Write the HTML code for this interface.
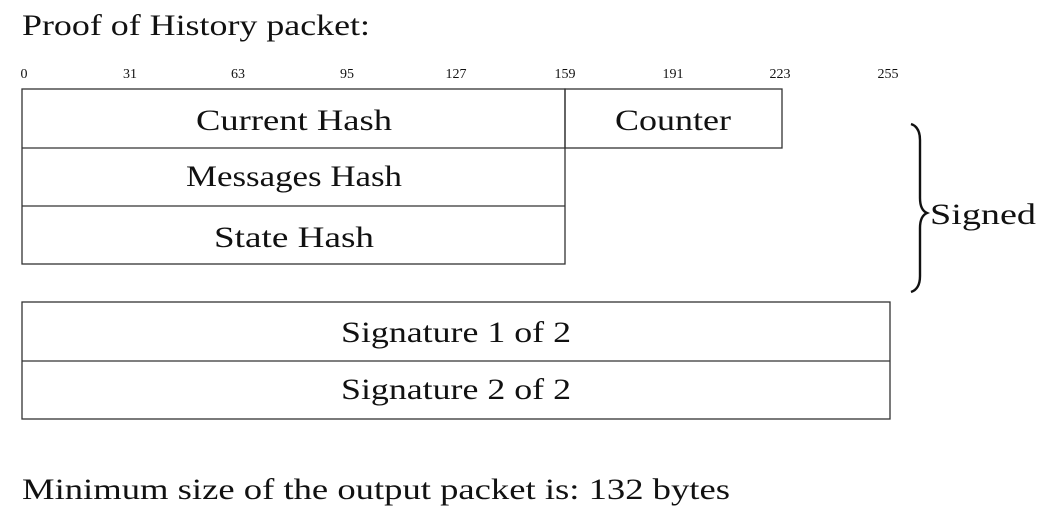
<!DOCTYPE html>
<html><head><meta charset="utf-8"><style>
html,body{margin:0;padding:0;background:#fff;}
svg{display:block;}
text{font-family:"Liberation Serif",serif;fill:#111;}
</style></head><body>
<svg width="1050" height="516" viewBox="0 0 1050 516" xmlns="http://www.w3.org/2000/svg">
<text x="22" y="35" font-size="30" textLength="348" lengthAdjust="spacingAndGlyphs">Proof of History packet:</text>
<g font-size="14" text-anchor="middle">
<text x="24" y="78">0</text>
<text x="130" y="78">31</text>
<text x="238" y="78">63</text>
<text x="347" y="78">95</text>
<text x="456" y="78">127</text>
<text x="565" y="78">159</text>
<text x="673" y="78">191</text>
<text x="780" y="78">223</text>
<text x="888" y="78">255</text>
</g>
<g fill="none" stroke="#333" stroke-width="1.3">
<rect x="22" y="89" width="543" height="175"/>
<line x1="22" y1="148" x2="565" y2="148"/>
<line x1="22" y1="206" x2="565" y2="206"/>
<rect x="565" y="89" width="217" height="59"/>
<rect x="22" y="302" width="868" height="117"/>
<line x1="22" y1="361" x2="890" y2="361"/>
<path d="M911 124 Q920 127 920 140 L920 198 Q920 210 927 213 Q920 216 920 228 L920 276 Q920 289 911 292" stroke="#111" stroke-width="2.4"/>
</g>
<g font-size="30" text-anchor="middle">
<text x="294" y="130" textLength="196" lengthAdjust="spacingAndGlyphs">Current Hash</text>
<text x="673" y="130" textLength="116" lengthAdjust="spacingAndGlyphs">Counter</text>
<text x="294" y="186" textLength="216" lengthAdjust="spacingAndGlyphs">Messages Hash</text>
<text x="294" y="247" textLength="160" lengthAdjust="spacingAndGlyphs">State Hash</text>
<text x="456" y="342" textLength="230" lengthAdjust="spacingAndGlyphs">Signature 1 of 2</text>
<text x="456" y="399" textLength="230" lengthAdjust="spacingAndGlyphs">Signature 2 of 2</text>
</g>
<text x="930" y="224" font-size="30" textLength="106" lengthAdjust="spacingAndGlyphs">Signed</text>
<text x="22" y="499" font-size="30" textLength="708" lengthAdjust="spacingAndGlyphs">Minimum size of the output packet is: 132 bytes</text>
</svg>
</body></html>
